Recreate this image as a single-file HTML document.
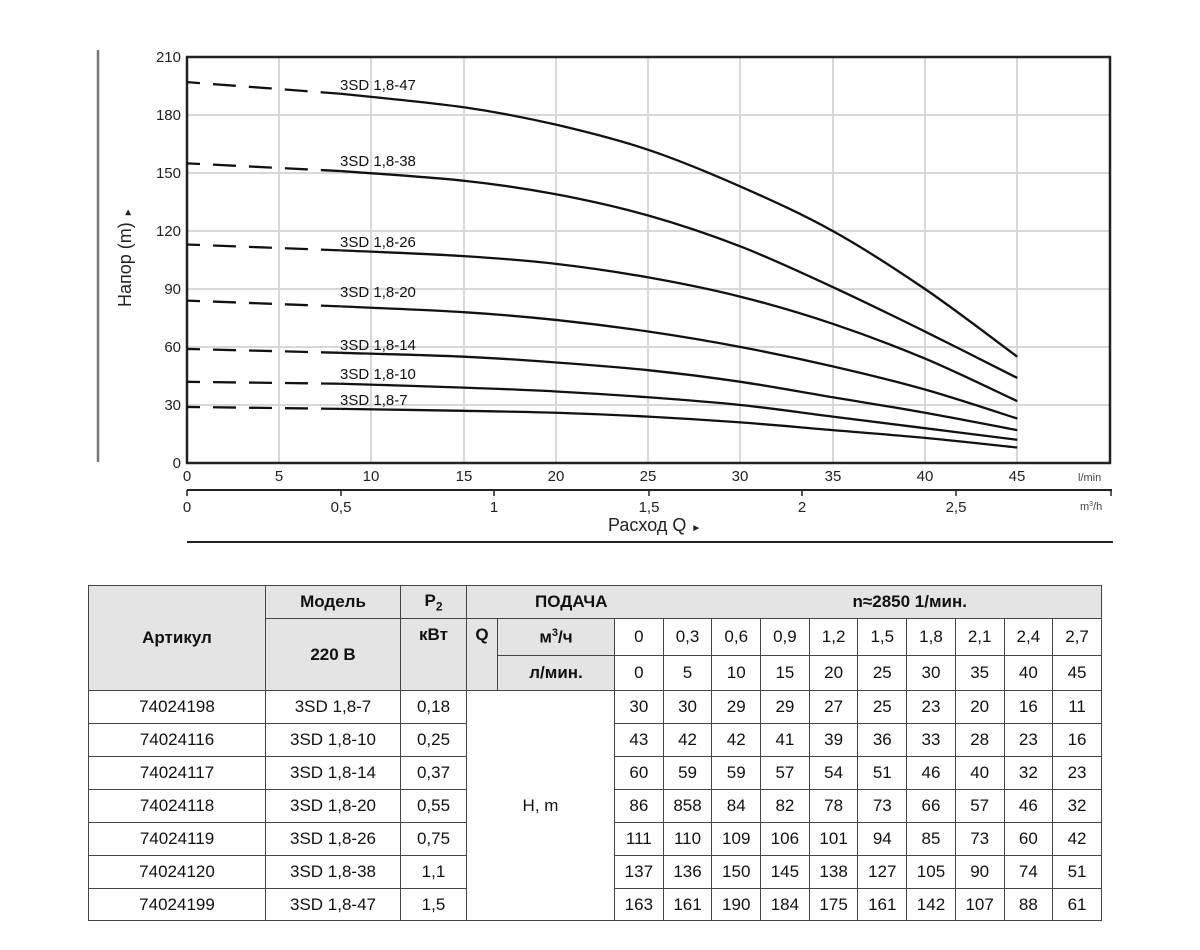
<!DOCTYPE html>
<html><head><meta charset="utf-8">
<style>
html,body{margin:0;padding:0;background:#fff;}
body{width:1200px;height:950px;position:relative;overflow:hidden;font-family:"Liberation Sans",sans-serif;}
svg{position:absolute;left:0;top:0;}
table{position:absolute;left:88px;top:585px;border-collapse:collapse;table-layout:fixed;font-family:"Liberation Sans Narrow","Liberation Sans",sans-serif;font-size:17px;color:#111;}
td{border:1.5px solid #444;text-align:center;padding:0;vertical-align:middle;}
.h{background:#e4e4e4;font-weight:bold;}
.t{vertical-align:top;padding-top:6px;}
</style></head><body>
<svg width="1200" height="560" viewBox="0 0 1200 560">
<g stroke="#d8d8d8" stroke-width="2">
<line x1="279" y1="57" x2="279" y2="463"/><line x1="371" y1="57" x2="371" y2="463"/><line x1="464" y1="57" x2="464" y2="463"/><line x1="556" y1="57" x2="556" y2="463"/><line x1="648" y1="57" x2="648" y2="463"/><line x1="740" y1="57" x2="740" y2="463"/><line x1="833" y1="57" x2="833" y2="463"/><line x1="925" y1="57" x2="925" y2="463"/><line x1="1017" y1="57" x2="1017" y2="463"/>
<line x1="187" y1="115" x2="1110" y2="115"/><line x1="187" y1="173" x2="1110" y2="173"/><line x1="187" y1="231" x2="1110" y2="231"/><line x1="187" y1="289" x2="1110" y2="289"/><line x1="187" y1="347" x2="1110" y2="347"/><line x1="187" y1="405" x2="1110" y2="405"/>
</g>
<rect x="187" y="57" width="923" height="406" fill="none" stroke="#222" stroke-width="2.5"/>
<line x1="98" y1="50" x2="98" y2="462" stroke="#777" stroke-width="2.5"/>
<g font-size="15" fill="#222" text-anchor="end">
<text x="181" y="62">210</text><text x="181" y="120">180</text><text x="181" y="178">150</text><text x="181" y="236">120</text><text x="181" y="294">90</text><text x="181" y="352">60</text><text x="181" y="410">30</text><text x="181" y="468">0</text>
</g>
<g font-size="15" fill="#222" text-anchor="middle">
<text x="187" y="481">0</text><text x="279" y="481">5</text><text x="371" y="481">10</text><text x="464" y="481">15</text><text x="556" y="481">20</text><text x="648" y="481">25</text><text x="740" y="481">30</text><text x="833" y="481">35</text><text x="925" y="481">40</text><text x="1017" y="481">45</text>
<text x="187" y="512">0</text><text x="341" y="512">0,5</text><text x="494" y="512">1</text><text x="649" y="512">1,5</text><text x="802" y="512">2</text><text x="956" y="512">2,5</text>
</g>
<text x="1078" y="481" font-size="11" fill="#444">l/min</text>
<text x="1080" y="510" font-size="11" fill="#444">m<tspan font-size="7" dy="-4">3</tspan><tspan dy="4">/h</tspan></text>
<line x1="187" y1="490" x2="1112" y2="490" stroke="#222" stroke-width="2"/>
<g stroke="#222" stroke-width="1.5"><line x1="187" y1="490" x2="187" y2="496"/><line x1="341" y1="490" x2="341" y2="496"/><line x1="494" y1="490" x2="494" y2="496"/><line x1="649" y1="490" x2="649" y2="496"/><line x1="802" y1="490" x2="802" y2="496"/><line x1="956" y1="490" x2="956" y2="496"/><line x1="1111" y1="490" x2="1111" y2="496"/></g>
<line x1="187" y1="542" x2="1113" y2="542" stroke="#222" stroke-width="2"/>
<text x="608" y="531" font-size="18" fill="#222">Расход Q <tspan font-size="10">►</tspan></text>
<text transform="translate(131,307) rotate(-90)" font-size="18" fill="#222">Напор (m) <tspan font-size="10">►</tspan></text>
<g fill="none" stroke="#111" stroke-width="2.3" stroke-linejoin="round" id="curves"></g>
<g font-size="15" fill="#111">
<text x="340" y="90">3SD 1,8-47</text><text x="340" y="166">3SD 1,8-38</text><text x="340" y="247">3SD 1,8-26</text><text x="340" y="297">3SD 1,8-20</text><text x="340" y="350">3SD 1,8-14</text><text x="340" y="379">3SD 1,8-10</text><text x="340" y="405">3SD 1,8-7</text>
</g>
</svg>
<script>
(function(){
var Q=[8.33,15,20,25,30,35,40,45];
var D=[[197,191,184,175,162,143,120,90,55],[155,151,146,139,128,112,91,68,44],[113,110,107,103,96,86,72,54,32],[84,81,78,74,68,60,50,38,23],[59,57,55,52,48,42,34,26,17],[42,41,39,37,34,30,24,18,12],[29,28,27,26,24,21,17,13,8]];
function X(q){return 187+q*18.45;}function Y(h){return 463-h*1.9333;}
var g=document.getElementById('curves'),ns='http://www.w3.org/2000/svg';
D.forEach(function(d){
 var l=document.createElementNS(ns,'line');
 l.setAttribute('x1',187);l.setAttribute('y1',Y(d[0]));l.setAttribute('x2',X(8.33));l.setAttribute('y2',Y(d[1]));
 l.setAttribute('stroke-dasharray','23 13');l.setAttribute('stroke-dashoffset','10');g.appendChild(l);
 var p=Q.map(function(q,i){return [X(q),Y(d[i+1])];});
 var s='M'+p[0][0]+','+p[0][1];
 for(var i=0;i<p.length-1;i++){
  var p0=p[Math.max(i-1,0)],p1=p[i],p2=p[i+1],p3=p[Math.min(i+2,p.length-1)];
  var c1=[p1[0]+(p2[0]-p0[0])/6,p1[1]+(p2[1]-p0[1])/6],c2=[p2[0]-(p3[0]-p1[0])/6,p2[1]-(p3[1]-p1[1])/6];
  s+=' C'+c1+' '+c2+' '+p2;
 }
 var pa=document.createElementNS(ns,'path');pa.setAttribute('d',s);g.appendChild(pa);
});
})();
</script>
<table>
<colgroup><col style="width:177px"><col style="width:135px"><col style="width:66px"><col style="width:31px"><col style="width:117px"><col span="10" style="width:48.7px"></colgroup>
<tr style="height:33px"><td class="h" rowspan="3">Артикул</td><td class="h">Модель</td><td class="h">P<sub style="font-size:12px">2</sub></td><td class="h" colspan="12" style="text-align:left;"><span style="margin-left:68px">ПОДАЧА</span><span style="margin-left:245px">n≈2850 1/мин.</span></td></tr>
<tr style="height:37px"><td class="h" rowspan="2">220 В</td><td class="h t" rowspan="2">кВт</td><td class="h t" rowspan="2">Q</td><td class="h">м<sup style="font-size:11px">3</sup>/ч</td><td>0</td><td>0,3</td><td>0,6</td><td>0,9</td><td>1,2</td><td>1,5</td><td>1,8</td><td>2,1</td><td>2,4</td><td>2,7</td></tr>
<tr style="height:35px"><td class="h">л/мин.</td><td>0</td><td>5</td><td>10</td><td>15</td><td>20</td><td>25</td><td>30</td><td>35</td><td>40</td><td>45</td></tr>
<tr style="height:33px"><td>74024198</td><td>3SD 1,8-7</td><td>0,18</td><td colspan="2" rowspan="7">H, m</td><td>30</td><td>30</td><td>29</td><td>29</td><td>27</td><td>25</td><td>23</td><td>20</td><td>16</td><td>11</td></tr>
<tr style="height:33px"><td>74024116</td><td>3SD 1,8-10</td><td>0,25</td><td>43</td><td>42</td><td>42</td><td>41</td><td>39</td><td>36</td><td>33</td><td>28</td><td>23</td><td>16</td></tr>
<tr style="height:33px"><td>74024117</td><td>3SD 1,8-14</td><td>0,37</td><td>60</td><td>59</td><td>59</td><td>57</td><td>54</td><td>51</td><td>46</td><td>40</td><td>32</td><td>23</td></tr>
<tr style="height:33px"><td>74024118</td><td>3SD 1,8-20</td><td>0,55</td><td>86</td><td>858</td><td>84</td><td>82</td><td>78</td><td>73</td><td>66</td><td>57</td><td>46</td><td>32</td></tr>
<tr style="height:33px"><td>74024119</td><td>3SD 1,8-26</td><td>0,75</td><td>111</td><td>110</td><td>109</td><td>106</td><td>101</td><td>94</td><td>85</td><td>73</td><td>60</td><td>42</td></tr>
<tr style="height:33px"><td>74024120</td><td>3SD 1,8-38</td><td>1,1</td><td>137</td><td>136</td><td>150</td><td>145</td><td>138</td><td>127</td><td>105</td><td>90</td><td>74</td><td>51</td></tr>
<tr style="height:32px"><td>74024199</td><td>3SD 1,8-47</td><td>1,5</td><td>163</td><td>161</td><td>190</td><td>184</td><td>175</td><td>161</td><td>142</td><td>107</td><td>88</td><td>61</td></tr>
</table>
</body></html>
